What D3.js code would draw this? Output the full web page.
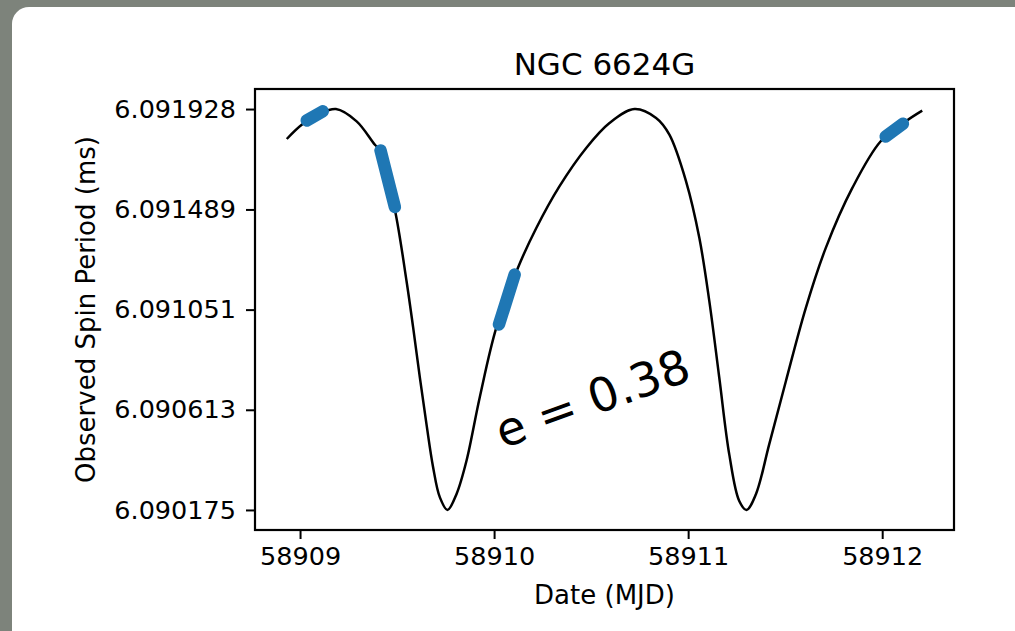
<!DOCTYPE html>
<html>
<head>
<meta charset="utf-8">
<script src="https://cdn.jsdelivr.net/npm/d3@7/dist/d3.min.js"></script>
<style>
  html, body { margin: 0; padding: 0; background: #7d837b; }
  svg { display: block; }
  text { font-family: "DejaVu Sans", sans-serif; fill: #000; }
</style>
</head>
<body>
<svg id="chart" width="1015" height="631"></svg>
<script>
// ---- data ----
const title = "NGC 6624G";
const xLabel = "Date (MJD)";
const yLabel = "Observed Spin Period (ms)";
const annotation = "e = 0.38";

// model curve (date MJD, period ms)
const modelDates = [
  58908.9316, 58909.0087, 58909.0926, 58909.1850, 58909.2917, 58909.3858,
  58909.4115, 58909.4887, 58909.5489, 58909.5828, 58909.6173, 58909.6517,
  58909.6857, 58909.7202, 58909.7598, 58909.8061, 58909.8575, 58909.9259,
  58910.0118, 58910.1230, 58910.2176, 58910.3374, 58910.4748, 58910.5947,
  58910.7233, 58910.8349, 58910.9033, 58910.9892, 58911.0576, 58911.1091,
  58911.1605, 58911.2119, 58911.2634, 58911.3009, 58911.3493, 58911.4177,
  58911.5036, 58911.6065, 58911.7094, 58911.8462, 58911.9923, 58912.1209,
  58912.2063
];
const modelPeriods = [
  6.091797, 6.091859, 6.091903, 6.091928, 6.091874, 6.091772,
  6.091750, 6.091488, 6.091175, 6.090973, 6.090755, 6.090549,
  6.090362, 6.090231, 6.090175, 6.090244, 6.090389, 6.090667,
  6.090973, 6.091234, 6.091408, 6.091591, 6.091758, 6.091867,
  6.091928, 6.091889, 6.091816, 6.091612, 6.091365, 6.091088,
  6.090753, 6.090418, 6.090214, 6.090175, 6.090244, 6.090462,
  6.090738, 6.091059, 6.091321, 6.091583, 6.091787, 6.091874,
  6.091921
];

// observed spans (start/end date and period)
const obsStartDates   = [58909.0345, 58909.4150, 58910.0252, 58912.0180];
const obsStartPeriods = [6.091878,   6.091747,   6.090986,   6.091808];
const obsEndDates     = [58909.1168, 58909.4887, 58910.1060, 58912.1070];
const obsEndPeriods   = [6.091918,   6.091500,   6.091204,   6.091864];

const xTickValues = [58909, 58910, 58911, 58912];
const xTickLabels = ["58909", "58910", "58911", "58912"];
const yTickValues = [6.090175, 6.090613, 6.091051, 6.091489, 6.091928];
const yTickLabels = ["6.090175", "6.090613", "6.091051", "6.091489", "6.091928"];

// ---- drawing ----
const svg = d3.select("#chart");

// card background
svg.append("rect").attr("x", 12).attr("y", 7).attr("width", 1020).attr("height", 640)
  .attr("rx", 17).attr("ry", 17).attr("fill", "#ffffff");

const plot = { left: 255, top: 89, right: 954, bottom: 530 };

const xMin = d3.min(modelDates), xMax = d3.max(modelDates);
const xPad = 0.05 * (xMax - xMin);
const yMin = d3.min(yTickValues), yMax = d3.max(yTickValues);
const yPad = 0.05 * (yMax - yMin);

const x = d3.scaleLinear().domain([xMin - xPad, xMax + xPad]).range([plot.left, plot.right]);
const y = d3.scaleLinear().domain([yMin - yPad, yMax + yPad]).range([plot.bottom, plot.top]);

const model = modelDates.map((d, i) => [d, modelPeriods[i]]);
const line = d3.line().x(d => x(d[0])).y(d => y(d[1])).curve(d3.curveCatmullRom.alpha(0.5));

const clipId = "plotclip";
svg.append("clipPath").attr("id", clipId).append("rect")
  .attr("x", plot.left).attr("y", plot.top)
  .attr("width", plot.right - plot.left).attr("height", plot.bottom - plot.top);

const g = svg.append("g").attr("clip-path", `url(#${clipId})`);

g.append("path").datum(model)
  .attr("d", line)
  .attr("fill", "none").attr("stroke", "#000").attr("stroke-width", 2.5);

const obs = obsStartDates.map((d, i) => [[d, obsStartPeriods[i]], [obsEndDates[i], obsEndPeriods[i]]]);
g.selectAll("path.obs").data(obs).enter().append("path")
  .attr("class", "obs")
  .attr("d", d3.line().x(d => x(d[0])).y(d => y(d[1])))
  .attr("fill", "none").attr("stroke", "#1f77b4")
  .attr("stroke-width", 12.5).attr("stroke-linecap", "round");

// axes
const xAxis = d3.axisBottom(x).tickValues(xTickValues)
  .tickFormat((d, i) => xTickLabels[i]).tickSizeInner(9).tickSizeOuter(0).tickPadding(8);
const yAxis = d3.axisLeft(y).tickValues(yTickValues)
  .tickFormat((d, i) => yTickLabels[i]).tickSizeInner(9).tickSizeOuter(0).tickPadding(10);

const gx = svg.append("g").attr("transform", `translate(0,${plot.bottom})`).call(xAxis);
const gy = svg.append("g").attr("transform", `translate(${plot.left},0)`).call(yAxis);
[gx, gy].forEach(a => {
  a.select(".domain").remove();
  a.selectAll(".tick line").attr("stroke", "#000").attr("stroke-width", 2);
  a.selectAll(".tick text").attr("font-size", 25.5).attr("font-family", "DejaVu Sans").attr("fill", "#000");
});
gx.selectAll(".tick text").attr("dy", "0.71em");

// frame
svg.append("rect").attr("x", plot.left).attr("y", plot.top)
  .attr("width", plot.right - plot.left).attr("height", plot.bottom - plot.top)
  .attr("fill", "none").attr("stroke", "#000").attr("stroke-width", 2.2);

// texts
svg.append("text").attr("x", (plot.left + plot.right) / 2).attr("y", 75)
  .attr("text-anchor", "middle").attr("font-size", 31).text(title);
svg.append("text").attr("x", (plot.left + plot.right) / 2).attr("y", 604)
  .attr("text-anchor", "middle").attr("font-size", 26).text(xLabel);
svg.append("text").attr("transform", `translate(95,${(plot.top + plot.bottom) / 2}) rotate(-90)`)
  .attr("text-anchor", "middle").attr("font-size", 26).text(yLabel);
svg.append("text").attr("transform", `translate(598,414) rotate(-20)`)
  .attr("text-anchor", "middle").attr("font-size", 47).text(annotation);
</script>
</body>
</html>
